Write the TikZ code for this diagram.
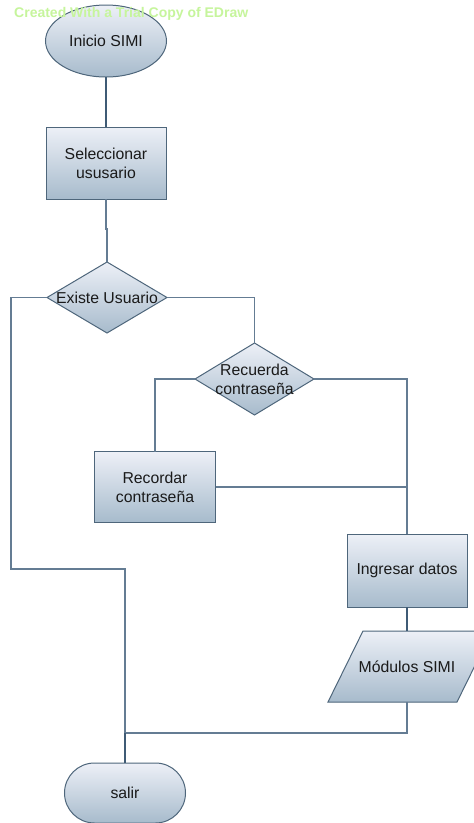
\documentclass[tikz,border=0pt]{standalone}
\usepackage{fontspec}
\setmainfont{Liberation Sans}
\usetikzlibrary{shapes.geometric}
\definecolor{edgec}{HTML}{4E667B}
\definecolor{linec}{HTML}{647C93}
\definecolor{darkline}{HTML}{3F5B75}
\definecolor{topc}{HTML}{EDF0F7}
\definecolor{botc}{HTML}{A7BBCC}
\definecolor{wmc}{HTML}{C6F59C}
\definecolor{txtc}{HTML}{1A1A1A}
\begin{document}
\begin{tikzpicture}[x=1pt,y=-1pt,
  shapestyle/.style={draw=edgec, line width=1pt, top color=topc, bottom color=botc,
    text=txtc, font=\fontsize{15.8}{19}\selectfont, align=center, inner sep=0pt, outer sep=0pt},
  procbox/.style={shapestyle, rectangle, minimum width=120pt, minimum height=72pt},
  decision/.style={shapestyle, diamond, minimum width=120pt, minimum height=71pt},
  dtext/.style={text=txtc, font=\fontsize{15.8}{19}\selectfont, align=center, inner sep=0pt},
  conn/.style={draw=linec, line width=1.1pt},
  thickconn/.style={draw=darkline, line width=1.8pt}
]
\useasboundingbox (0,0) rectangle (474,823);
\fill[white] (0,0) rectangle (474,823);

% nodes
\node[shapestyle, ellipse, minimum width=121pt, minimum height=72pt] (inicio) at (106,41) {Inicio SIMI};
\node[procbox] (sel) at (106,163) {Seleccionar\\ususario};
\node[decision, label={[dtext]center:Existe Usuario}] (exist) at (107,297.5) {};
\node[decision, minimum width=119pt, minimum height=72pt, label={[dtext]center:Recuerda\\contraseña}] (recu) at (254.5,379) {};
\node[procbox, minimum width=121pt, minimum height=71pt] (rec) at (155,487) {Recordar\\contraseña};
\node[procbox, minimum width=120pt, minimum height=73pt] (ing) at (407,570.5) {Ingresar datos};
\shade[top color=topc, bottom color=botc, draw=edgec, line width=1pt]
  (328,702) -- (363,631) -- (492,631) -- (457,702) -- cycle;
\node[dtext, minimum width=100pt, minimum height=71pt] (mod) at (407,666.5) {Módulos SIMI};
\node[shapestyle, rectangle, rounded corners=30pt, minimum width=121pt, minimum height=60pt] (salir) at (125,793) {salir};

\coordinate (j1) at (106,229);
\coordinate (c1) at (11,569);
\coordinate (c2) at (125,733);

% connectors
\draw[thickconn] (inicio.south) -- (sel.north);
\draw[conn] (sel.south) -- (j1) -- (j1 -| exist.north) -- (exist.north);
\draw[conn] (exist.west) -| (c1) -| (c2);
\draw[conn] (exist.east) -| (recu.north);
\draw[conn] (recu.west) -| (rec.north);
\draw[conn] (recu.east) -| (ing.north);
\draw[conn] (rec.east) -- (rec.east -| ing.north);
\draw[thickconn] (ing.south) -- (mod.north);
\draw[conn] (mod.south) |- (c2);
\draw[thickconn] (c2) -- (salir.north);

% watermark
\node[anchor=west, text=wmc, font=\bfseries\fontsize{14}{16}\selectfont, inner sep=0pt] (wm) at (14,14) {Created With a Trial Copy of EDraw};
\end{tikzpicture}
\end{document}
